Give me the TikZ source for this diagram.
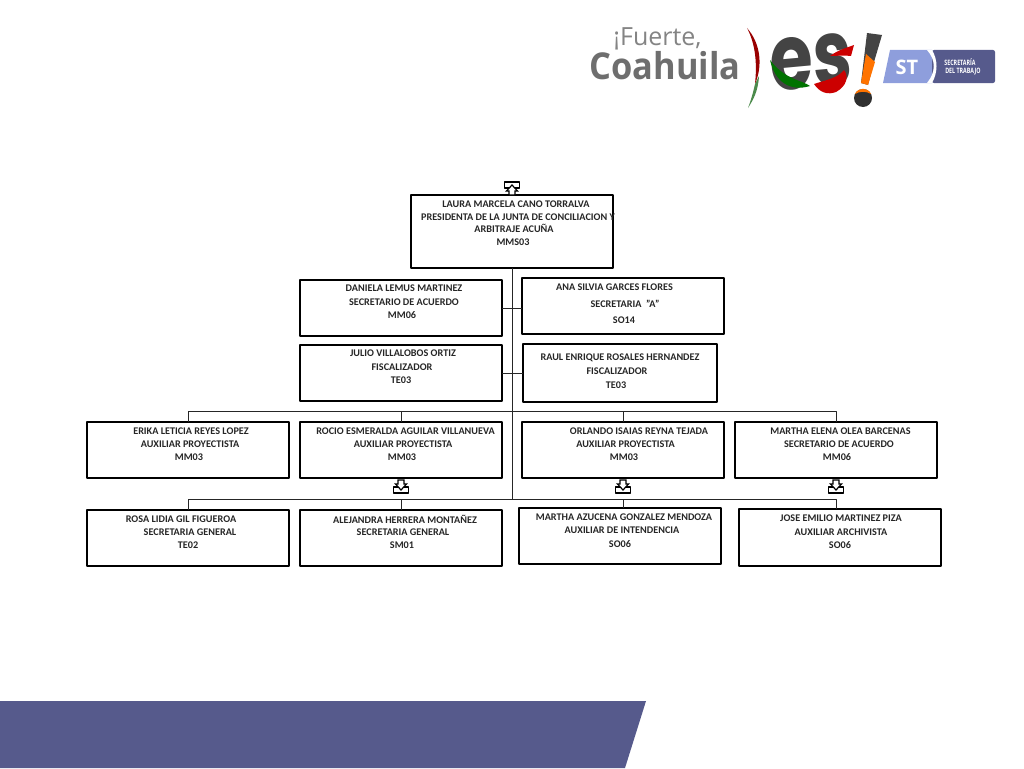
\documentclass[tikz,border=0pt]{standalone}
\usepackage{fontspec}
\setmainfont[Ligatures=NoCommon]{Carlito}
\newfontfamily\logofont{Open Sans}
\newfontfamily\heavyfont{Poppins}
\definecolor{bandblue}{HTML}{565A8C}
\definecolor{stlight}{HTML}{8E9EDC}
\definecolor{logogray}{HTML}{6E6E6E}
\definecolor{logodark}{HTML}{444444}
\definecolor{txtgray}{HTML}{262626}
\tikzset{
  orgbox/.style={draw=black, line width=2.1pt, inner sep=0pt, outer sep=0pt, minimum height=#1},
  orgbox/.default=56pt,
  wide/.style={minimum width=202pt},
  lbl/.style={inner sep=0pt, yshift=-0.5pt, text=txtgray, font=\bfseries\fontsize{10.2}{11}\selectfont},
  link/.style={black!85, line width=1pt},
  expandmark/.pic={
    \draw[black, line width=1.2pt, fill=white] (-7.5,0) rectangle (7.5,6);
    \draw[black, line width=1.2pt, fill=white, line join=miter]
      (-3,-7) -- (3,-7) -- (3,-3) -- (5.5,-3) -- (0,3) -- (-5.5,-3) -- (-3,-3) -- cycle;
  }
}
\begin{document}
\begin{tikzpicture}[x=1pt, y=-1pt, line join=round]
  \useasboundingbox (0,0) rectangle (1024,768);
  % --- band ----------------------------------------------------
  \fill[bandblue] (0,701) -- (646,701) -- (625,768) -- (0,768) -- cycle;
  % --- logo words ----------------------------------------------
  \node[inner sep=0pt, text=logogray!85, font=\logofont\fontsize{25}{25}\selectfont] (fuerte) at (657.5,39) {¡Fuerte,};
  \node[inner sep=0pt, text=logogray, font=\logofont\bfseries\fontsize{37}{37}\selectfont, xscale=0.93] (coahuila) at (665,66) {Coahuila};
  % --- logo bracket ---------------------------------------------
  \fill[red!60!black] (747,28) .. controls (762,45) and (762,68) .. (755,84)
    .. controls (757,65) and (756,45) .. cycle;
  \fill[green!35!black!70] (755,84) .. controls (753,93) and (751,100) .. (748,108)
    .. controls (753,100) and (758,92) .. (759,76) -- cycle;
  % --- logo es --------------------------------------------------
  \node[inner sep=0pt, text=logodark, font=\heavyfont\bfseries\fontsize{92}{92}\selectfont, xscale=0.76, rotate=4] (eess) at (811,62) {es};
  \fill[green!45!black] (770,60) .. controls (775,82) and (790,92) .. (810,86)
    .. controls (802,80) and (785,80) .. cycle;
  \fill[red!80!black] (814,84) .. controls (826,80) and (838,78) .. (844,70)
    .. controls (849,76) and (847,86) .. (836,92) .. controls (828,95) and (820,93) .. cycle;
  \fill[red!80!black] (830,56) .. controls (838,50) and (846,48) .. (854,45)
    -- (851,56) .. controls (844,55) and (836,56) .. cycle;
  % --- logo mark ------------------------------------------------
  \fill[logodark] (867,33) -- (882,35) -- (874,62) -- (868,85) -- (861,83) -- cycle;
  \fill[orange!90!red] (866,54) -- (875,62) -- (868,85) -- (861,83) -- cycle;
  \fill[logodark!70!black] (863,98) circle [radius=9];
  \fill[orange!90!red] (855,94) .. controls (858,87) and (868,87) .. (871,94)
    .. controls (866,91) and (860,91) .. cycle;
  % --- secretaria tag -------------------------------------------
  \fill[stlight] (890,50) -- (932,50) -- (932,83) -- (883,83) -- cycle;
  \fill[bandblue, rounded corners=2pt] (932,50) -- (995,50) -- (995,83) -- (932,83) -- cycle;
  \fill[white] (927,50) .. controls (936,60) and (936,72) .. (927,83)
    -- (932,83) .. controls (938,72) and (938,60) .. (932,50) -- cycle;
  \node[inner sep=0pt, text=white, font=\logofont\bfseries\fontsize{20}{20}\selectfont] (sttag) at (907,67) {ST};
  \node[inner sep=0pt, text=white, font=\logofont\bfseries\fontsize{7.4}{7.4}\selectfont, xscale=0.72] (sttop) at (960,62.5) {SECRETARÍA};
  \node[inner sep=0pt, text=white, font=\logofont\bfseries\fontsize{7.4}{7.4}\selectfont, xscale=0.72] (stbot) at (963,72) {DEL TRABAJO};
  % --- boxes ----------------------------------------------------
  \node[orgbox=73pt, wide] (laura) at (512,231.5) {};
  \node[orgbox, wide] (daniela) at (401,308) {};
  \node[orgbox, wide] (ana) at (623,306) {};
  \node[orgbox, wide] (julio) at (401,373) {};
  \node[orgbox=58pt, minimum width=194pt] (raul) at (620,373) {};
  \node[orgbox, wide] (erika) at (188,450) {};
  \node[orgbox, wide] (rocio) at (401,450) {};
  \node[orgbox, wide] (orlando) at (623,450) {};
  \node[orgbox, wide] (elena) at (836,450) {};
  \node[orgbox, wide] (rosa) at (188,538) {};
  \node[orgbox, wide] (alejandra) at (401,538) {};
  \node[orgbox, wide] (azucena) at (620,536) {};
  \node[orgbox=57pt, wide] (jose) at (840,537.5) {};
  % --- connectors -----------------------------------------------
  \coordinate (busa) at (512,411);
  \coordinate (busb) at (512,499);
  \draw[link] (laura.south) -- (busb);
  \draw[link] (daniela.east) -- (daniela.east -| ana.west);
  \draw[link] (julio.east) -- (raul.west);
  \draw[link] (erika.north) |- (busa);
  \draw[link] (rocio.north) -- (rocio.north |- busa);
  \draw[link] (orlando.north) -- (orlando.north |- busa);
  \draw[link] (elena.north) |- (busa);
  \draw[link] (rosa.north) |- (busb);
  \draw[link] (alejandra.north) -- (alejandra.north |- busb);
  \draw[link] (azucena.north -| orlando.north) -- (orlando.north |- busb);
  \draw[link] (jose.north -| elena.north) |- (busb);
  % --- markers --------------------------------------------------
  \pic[yscale=-1] at (512,188) {expandmark};
  \pic at (401,487) {expandmark};
  \pic at (623,487) {expandmark};
  \pic at (836,487) {expandmark};
  % --- laura ----------------------------------------------------
  \node[lbl] (lauraa) at (516,203.5) {LAURA MARCELA CANO TORRALVA};
  \node[lbl] (laurab) at (518,216.5) {PRESIDENTA DE LA JUNTA DE CONCILIACION Y};
  \node[lbl] (laurac) at (514,228) {ARBITRAJE ACUÑA};
  \node[lbl] (laurad) at (513,242) {MMS03};
  % --- second row -----------------------------------------------
  \node[lbl] (danielaa) at (404,288) {DANIELA LEMUS MARTINEZ};
  \node[lbl] (danielab) at (404,301.5) {SECRETARIO DE ACUERDO};
  \node[lbl] (danielac) at (402,314.5) {MM06};
  \node[lbl] (anaa) at (614.5,286.5) {ANA SILVIA GARCES FLORES};
  \node[lbl] (anab) at (625,303.5) {SECRETARIA ~\char34 A\char34};
  \node[lbl] (anac) at (624,319.5) {SO14};
  \node[lbl] (julioa) at (403,353) {JULIO VILLALOBOS ORTIZ};
  \node[lbl] (juliob) at (402,366.5) {FISCALIZADOR};
  \node[lbl] (julioc) at (401,380) {TE03};
  \node[lbl] (raula) at (620,357.5) {RAUL ENRIQUE ROSALES HERNANDEZ};
  \node[lbl] (raulb) at (617,371) {FISCALIZADOR};
  \node[lbl] (raulc) at (616,384.5) {TE03};
  % --- third row ------------------------------------------------
  \node[lbl] (erikaa) at (191,430.5) {ERIKA LETICIA REYES LOPEZ};
  \node[lbl] (erikab) at (190,444) {AUXILIAR PROYECTISTA};
  \node[lbl] (erikac) at (189,457) {MM03};
  \node[lbl] (rocioa) at (405.5,430.5) {ROCIO ESMERALDA AGUILAR VILLANUEVA};
  \node[lbl] (rociob) at (403,444) {AUXILIAR PROYECTISTA};
  \node[lbl] (rocioc) at (402,457) {MM03};
  \node[lbl] (orlandoa) at (639,430.5) {ORLANDO ISAIAS REYNA TEJADA};
  \node[lbl] (orlandob) at (625.5,444) {AUXILIAR PROYECTISTA};
  \node[lbl] (orlandoc) at (624,457) {MM03};
  \node[lbl] (elenaa) at (840.5,430.5) {MARTHA ELENA OLEA BARCENAS};
  \node[lbl] (elenab) at (839,444) {SECRETARIO DE ACUERDO};
  \node[lbl] (elenac) at (837,457) {MM06};
  % --- fourth row -----------------------------------------------
  \node[lbl] (rosaa) at (181,518.5) {ROSA LIDIA GIL FIGUEROA};
  \node[lbl] (rosab) at (190,532) {SECRETARIA GENERAL};
  \node[lbl] (rosac) at (188,545) {TE02};
  \node[lbl] (alejandraa) at (405,518.5) {ALEJANDRA HERRERA MONTAÑEZ};
  \node[lbl] (alejandrab) at (403,532) {SECRETARIA GENERAL};
  \node[lbl] (alejandrac) at (402,545) {SM01};
  \node[lbl] (azucenaa) at (624,516.5) {MARTHA AZUCENA GONZALEZ MENDOZA};
  \node[lbl] (azucenab) at (622,530) {AUXILIAR DE INTENDENCIA};
  \node[lbl] (azucenac) at (620,543.5) {SO06};
  \node[lbl] (josea) at (841,518) {JOSE EMILIO MARTINEZ PIZA};
  \node[lbl] (joseb) at (841,531.5) {AUXILIAR ARCHIVISTA};
  \node[lbl] (josec) at (840,544.5) {SO06};
\end{tikzpicture}
\end{document}
